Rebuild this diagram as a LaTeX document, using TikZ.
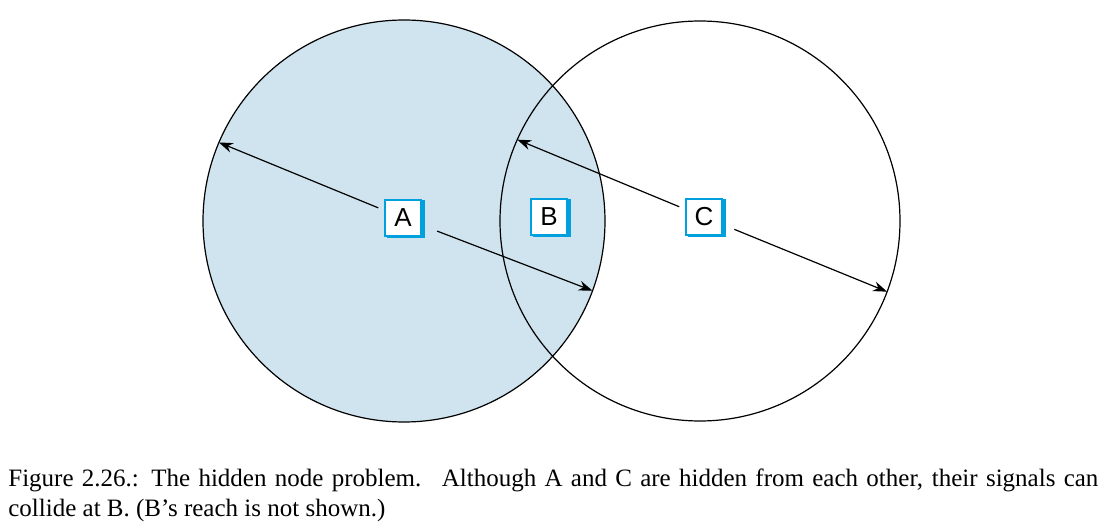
\documentclass[tikz,border=0pt]{standalone}
\usepackage{fontspec}
\setmainfont{Liberation Serif}
\newfontfamily\boxfont{Liberation Sans}
\usetikzlibrary{arrows.meta,shadows}

\definecolor{reachblue}{RGB}{208,228,239}
\definecolor{boxblue}{RGB}{0,160,222}

\tikzset{
  station/.style={draw=boxblue, line width=1.2pt, fill=white, minimum size=18pt,
    inner sep=0pt, font=\boxfont\fontsize{13}{13}\selectfont,
    copy shadow={shadow xshift=1.4pt, shadow yshift=-0.6pt, fill=boxblue, draw=boxblue}},
  signal/.style={-{Stealth[length=7pt,width=5pt]}, line width=0.6pt, shorten <=3pt},
  reach/.style={line width=0.6pt}
}

\begin{document}
\begin{tikzpicture}[x=0.5pt,y=-0.5pt]
\useasboundingbox (0,0) rectangle (1104,529);

% Reach of A and C
\fill[reachblue] (404,221) circle (201);
\draw[reach] (404,221) circle (201);
\draw[reach] (700,221) circle (200);

% Stations
\node[station] (A) at (403,218) {A};
\node[station] (B) at (549,217) {B};
\node[station] (C) at (704,217) {C};

% Edge points of the signals
\path (404,221) ++(-157:201) coordinate (a1);
\path (404,221) ++(20.3:201) coordinate (a2);
\path (700,221) ++(-156:200) coordinate (c1);
\path (700,221) ++(20.7:200) coordinate (c2);

% Signals
\draw[signal] (A) -- (a1);
\draw[signal, shorten <=8pt] (A) -- (a2);
\draw[signal] (C) -- (c1);
\draw[signal, shorten <=6pt] (C) -- (c2);

% Caption
\node[anchor=north west, inner sep=0pt, text width=545pt, align=justify,
  font=\fontsize{12.5}{15}\selectfont] (caption) at (8,468)
  {Figure 2.26.: The hidden node problem.\hspace{3pt} Although A and C are hidden from each other, their signals can collide at B. (B's reach is not shown.)};
\end{tikzpicture}
\end{document}
